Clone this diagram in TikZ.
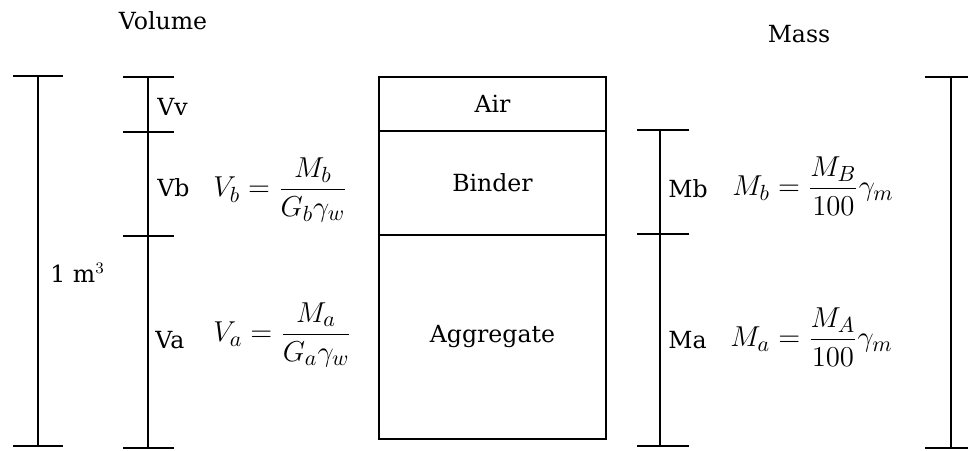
\documentclass[tikz,border=0pt]{standalone}
\usepackage{fontspec}
\setmainfont{DejaVu Serif}
\usetikzlibrary{positioning}

\begin{document}
\begin{tikzpicture}[x=0.5pt,y=-0.5pt,
      layer/.style={draw,line width=0.8pt,minimum width=113.5pt,inner sep=0pt,outer sep=0pt,
      font=\fontsize{11.8}{14}\selectfont},
      lbl/.style={inner sep=0pt,font=\fontsize{11.8}{14}\selectfont},
      eqn/.style={inner sep=0pt,anchor=west,font=\fontsize{15.5}{18}\selectfont},
      dimline/.style={line width=0.8pt}]
      \useasboundingbox (0,0) rectangle (968,450);
      % the sample: air, binder, aggregate
      \node[layer,minimum height=27pt,anchor=north west] (air) at (379,77) {Air};
      \node[layer,minimum height=52pt,below=0pt of air] (binder) {Binder};
      \node[layer,minimum height=102pt,below=0pt of binder] (aggregate) {Aggregate};
      % volume side
      \node[lbl] (volume) at (163,21) {Volume};
      \coordinate (totaltop) at (38,76);
      \coordinate (totalbot) at (38,446);
      \draw[dimline] (totaltop) -- (totalbot);
      \foreach \y in {76,446} \draw[dimline] (13,\y) -- (63,\y);
      \node[lbl,anchor=west] (onecube) at (50,273) {1 m$^3$};
      \coordinate (voltop) at (148,77);
      \coordinate (volbot) at (148,448);
      \draw[dimline] (voltop) -- (volbot);
      \foreach \y in {77,132,236,448} \draw[dimline] (123,\y) -- (174,\y);
      \node[lbl,anchor=west] (vv) at (157,107) {Vv};
      \node[lbl,anchor=west] (vb) at (157,188) {Vb};
      \node[lbl,anchor=west] (va) at (155,340) {Va};
      \node[eqn] (vbeq) at (213,190) {$\displaystyle V_b=\frac{M_b}{G_b\gamma_w}$};
      \node[eqn] (vaeq) at (213,335) {$\displaystyle V_a=\frac{M_a}{G_a\gamma_w}$};
      % mass side
      \node[lbl] (mass) at (799,34) {Mass};
      \coordinate (masstop) at (660,130);
      \coordinate (massbot) at (660,446);
      \draw[dimline] (masstop) -- (massbot);
      \foreach \y in {130,234,446} \draw[dimline] (637,\y) -- (689,\y);
      \node[lbl,anchor=west] (mb) at (668,189) {Mb};
      \node[lbl,anchor=west] (ma) at (668,340) {Ma};
      \node[eqn] (mbeq) at (732,186) {$\displaystyle M_b=\frac{M_B}{100}\gamma_m$};
      \node[eqn] (maeq) at (730,337) {$\displaystyle M_a=\frac{M_A}{100}\gamma_m$};
      \coordinate (alltop) at (951,77);
      \coordinate (allbot) at (951,448);
      \draw[dimline] (alltop) -- (allbot);
      \foreach \y in {77,448} \draw[dimline] (925,\y) -- (977,\y);
    \end{tikzpicture}
\end{document}
